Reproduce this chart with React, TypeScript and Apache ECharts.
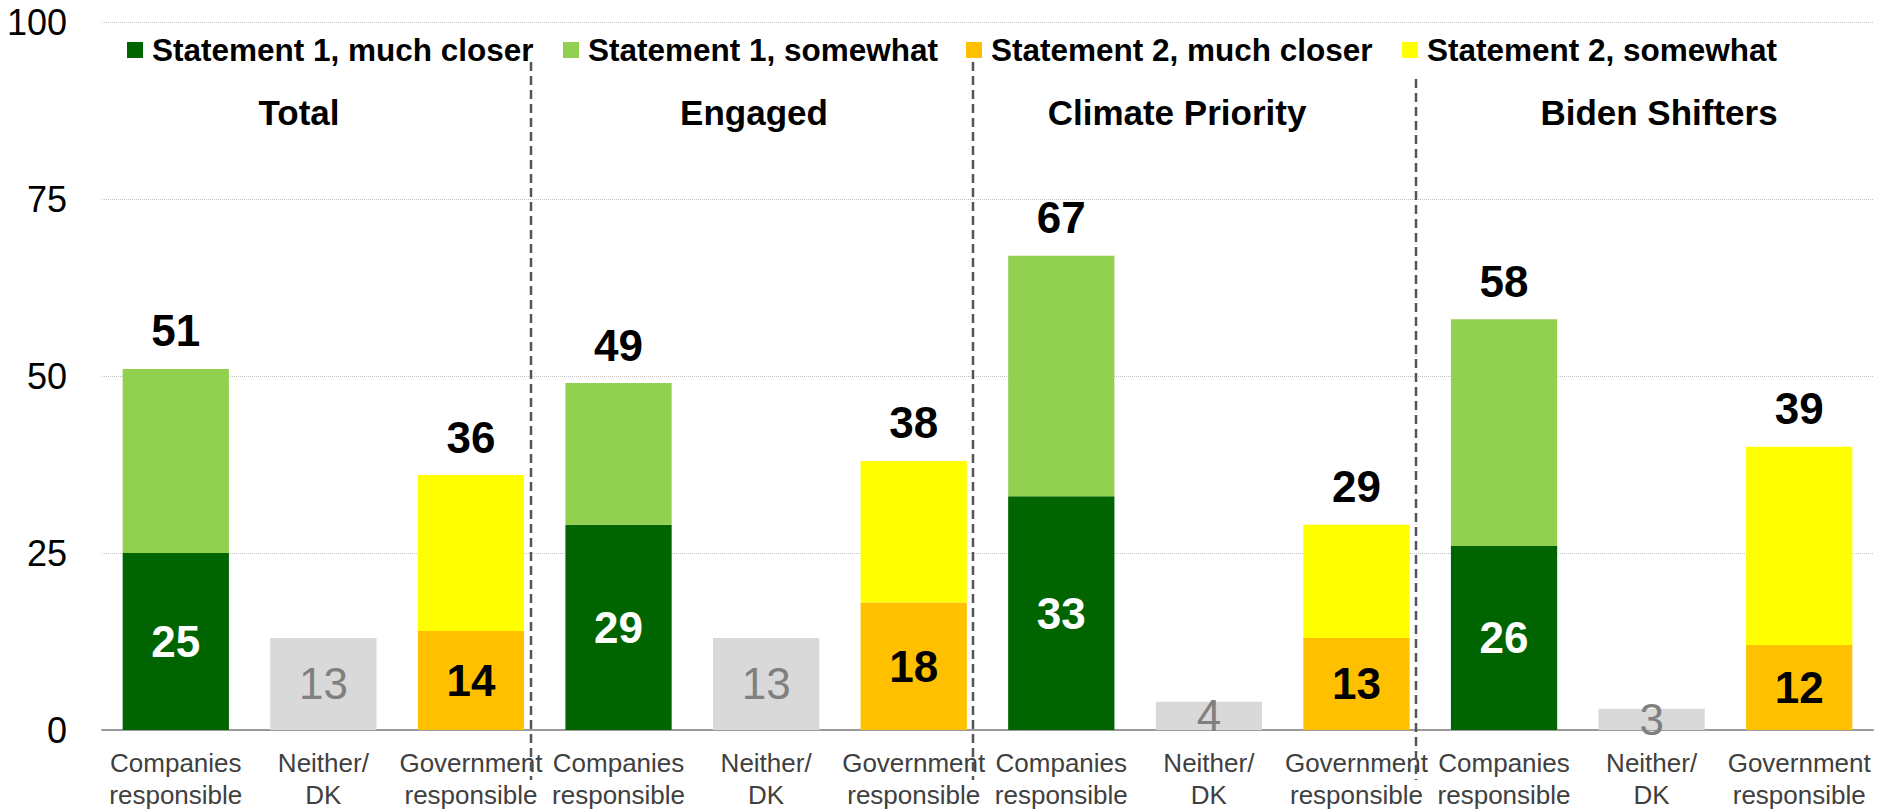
import React, { useEffect, useRef } from "react";
import * as echarts from "echarts";

const categories = [
  "Companies\nresponsible", "Neither/\nDK", "Government\nresponsible",
  "Companies\nresponsible", "Neither/\nDK", "Government\nresponsible",
  "Companies\nresponsible", "Neither/\nDK", "Government\nresponsible",
  "Companies\nresponsible", "Neither/\nDK", "Government\nresponsible",
];
const s1Much = [25, null, null, 29, null, null, 33, null, null, 26, null, null];
const s1Some = [26, null, null, 20, null, null, 34, null, null, 32, null, null];
const neither = [null, 13, null, null, 13, null, null, 4, null, null, 3, null];
const s2Much = [null, null, 14, null, null, 18, null, null, 13, null, null, 12];
const s2Some = [null, null, 22, null, null, 20, null, null, 16, null, null, 28];
const totalLabels = [51, null, 36, 49, null, 38, 67, null, 29, 58, null, 39];
const groupTitles = ["Total", "Engaged", "Climate Priority", "Biden Shifters"];
const groupTitleX = [299, 754, 1177, 1659];
const yTicks = { min: 0, max: 100, interval: 25 };
const seriesNames = [
  "Statement 1, much closer",
  "Statement 1, somewhat",
  "Statement 2, much closer",
  "Statement 2, somewhat",
];
const legendLeft = [127, 563, 966, 1402];
const colors = {
  s1Much: "#006400",
  s1Some: "#92D050",
  neither: "#D9D9D9",
  s2Much: "#FFC000",
  s2Some: "#FFFF00",
};

const FONT = "'Liberation Sans', Arial, sans-serif";

export default function App() {
  const ref = useRef<HTMLDivElement>(null);
  useEffect(() => {
    if (!ref.current) return;
    const chart = echarts.init(ref.current, null, { renderer: "svg" });
    const bigLabel = { fontSize: 44, fontWeight: "bold" as const, fontFamily: FONT, lineHeight: 44 };
    const option: any = {
      animation: false,
      textStyle: { fontFamily: FONT },
      grid: { left: 102, right: 6, top: 22, bottom: 79, containLabel: false },
      legend: seriesNames.map((n, i) => ({
        data: [n],
        left: legendLeft[i],
        top: 34,
        padding: 0,
        icon: "rect",
        itemWidth: 16,
        itemHeight: 16,
        textStyle: { fontSize: 31.5, fontWeight: "bold", color: "#000", fontFamily: FONT, lineHeight: 32, padding: [0, 0, 0, 4] },
      })),
      xAxis: {
        type: "category",
        data: categories,
        axisLine: { lineStyle: { color: "#9a9a9a", width: 2 } },
        axisTick: { interval: 1, length: 8, lineStyle: { color: "#9a9a9a", width: 2 } },
        axisLabel: { interval: 0, fontSize: 26, lineHeight: 32, color: "#404040", margin: 17, fontFamily: FONT },
      },
      yAxis: {
        type: "value",
        min: yTicks.min,
        max: yTicks.max,
        interval: yTicks.interval,
        axisLine: { show: false },
        axisTick: { show: false },
        axisLabel: { fontSize: 36, color: "#000", margin: 35, fontFamily: FONT },
        splitLine: { lineStyle: { color: "#c4c4c4", type: "dotted", width: 1 } },
      },
      series: [
        {
          name: seriesNames[0], type: "bar", stack: "a", data: s1Much, barCategoryGap: "28%",
          itemStyle: { color: colors.s1Much },
          label: { show: true, position: "inside", color: "#fff", ...bigLabel },
        },
        {
          name: seriesNames[1], type: "bar", stack: "a", data: s1Some,
          itemStyle: { color: colors.s1Some },
          label: {
            show: true, position: "top", distance: 16, color: "#000", ...bigLabel,
            formatter: (p: any) => (totalLabels[p.dataIndex] == null ? "" : String(totalLabels[p.dataIndex])),
          },
        },
        {
          name: "Neither/DK", type: "bar", stack: "a", data: neither,
          itemStyle: { color: colors.neither },
          label: { show: true, position: "inside", color: "#808080", fontSize: 44, fontFamily: FONT, lineHeight: 44 },
        },
        {
          name: seriesNames[2], type: "bar", stack: "a", data: s2Much,
          itemStyle: { color: colors.s2Much },
          label: { show: true, position: "inside", color: "#000", ...bigLabel },
        },
        {
          name: seriesNames[3], type: "bar", stack: "a", data: s2Some,
          itemStyle: { color: colors.s2Some },
          label: {
            show: true, position: "top", distance: 16, color: "#000", ...bigLabel,
            formatter: (p: any) => (totalLabels[p.dataIndex] == null ? "" : String(totalLabels[p.dataIndex])),
          },
        },
      ],
    };
    chart.setOption(option);

    const sepTops = [62, 62, 79];
    const graphics: any[] = [];
    [3, 6, 9].forEach((idx, i) => {
      const a = chart.convertToPixel({ xAxisIndex: 0 }, idx - 1) as number;
      const b = chart.convertToPixel({ xAxisIndex: 0 }, idx) as number;
      const x = Math.round((a + b) / 2 - 14);
      graphics.push({
        type: "line",
        shape: { x1: x, y1: sepTops[i], x2: x, y2: 780 },
        style: { stroke: "#555555", lineWidth: 2.5, lineDash: [9, 5] },
        z: 10,
      });
    });
    groupTitles.forEach((t, i) => {
      graphics.push({
        type: "text",
        x: groupTitleX[i],
        y: 112,
        style: {
          text: t,
          fontSize: 35,
          fontWeight: "bold",
          fontFamily: FONT,
          fill: "#000",
          textAlign: "center",
          textVerticalAlign: "middle",
        },
        z: 11,
      });
    });
    chart.setOption({ graphic: graphics });

    return () => chart.dispose();
  }, []);
  return (
    <div
      ref={ref}
      style={{ position: "fixed", left: 0, top: 0, width: 1879, height: 811, background: "#fff" }}
    />
  );
}
